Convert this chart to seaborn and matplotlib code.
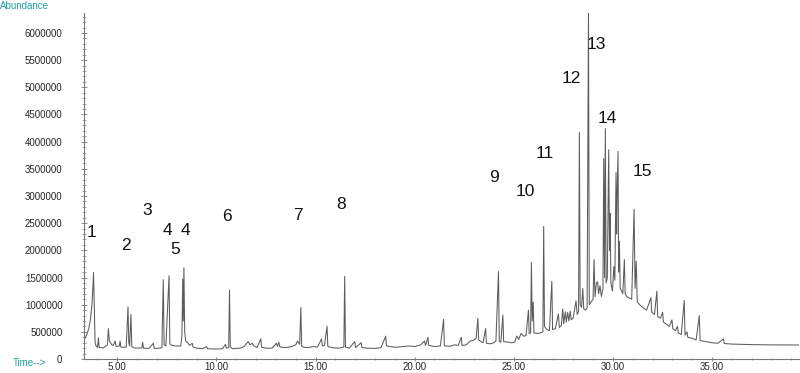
import matplotlib
matplotlib.use("Agg")
import matplotlib.pyplot as plt
import matplotlib.ticker as mticker
import seaborn as sns
import pandas as pd

# ---- data (time in min, abundance) ----
trace_time = [
    3.32, 3.36, 3.40, 3.48, 3.56, 3.64, 3.72, 3.78, 3.80, 3.84, 3.88, 3.94, 4.00, 4.05, 4.08,
    4.20, 4.30, 4.50, 4.55, 4.60, 4.66, 4.72, 4.80, 4.89, 4.93, 5.00, 5.10, 5.14, 5.18, 5.30,
    5.45, 5.54, 5.58, 5.62, 5.69, 5.73, 5.85, 6.00, 6.24, 6.28, 6.32, 6.60, 6.82, 6.86, 7.15,
    7.25, 7.32, 7.36, 7.45, 7.61, 7.65, 7.70, 7.90, 8.20, 8.26, 8.30, 8.33, 8.36, 8.40, 8.45,
    8.55, 8.65, 8.78, 8.82, 9.00, 9.30, 9.50, 9.55, 9.80, 10.10, 10.30, 10.46, 10.50, 10.62, 10.66,
    10.70, 10.80, 11.20, 11.40, 11.60, 11.70, 11.80, 11.90, 12.05, 12.24, 12.28, 12.50, 12.80, 13.03, 13.07,
    13.15, 13.20, 13.50, 13.80, 14.00, 14.09, 14.20, 14.26, 14.30, 14.50, 14.70, 14.90, 15.10, 15.30, 15.35,
    15.45, 15.58, 15.62, 15.90, 16.20, 16.43, 16.47, 16.51, 16.70, 16.98, 17.02, 17.30, 17.34, 17.60, 18.00,
    18.30, 18.54, 18.58, 18.75, 19.00, 19.40, 19.70, 20.00, 20.30, 20.50, 20.55, 20.67, 20.71, 21.00, 21.30,
    21.46, 21.50, 21.80, 22.00, 22.20, 22.35, 22.39, 22.60, 22.80, 22.95, 23.10, 23.19, 23.23, 23.35, 23.45,
    23.58, 23.62, 23.80, 24.00, 24.10, 24.23, 24.27, 24.35, 24.45, 24.49, 24.70, 24.90, 25.05, 25.15, 25.25,
    25.37, 25.50, 25.62, 25.74, 25.78, 25.85, 25.89, 25.93, 25.98, 26.02, 26.20, 26.35, 26.47, 26.51, 26.55,
    26.65, 26.80, 26.92, 26.96, 27.10, 27.25, 27.30, 27.40, 27.47, 27.52, 27.60, 27.65, 27.72, 27.78, 27.85,
    27.90, 28.00, 28.14, 28.20, 28.27, 28.31, 28.35, 28.42, 28.48, 28.53, 28.62, 28.70, 28.77, 28.81, 28.90,
    29.00, 29.05, 29.10, 29.17, 29.23, 29.28, 29.35, 29.42, 29.50, 29.54, 29.58, 29.62, 29.66, 29.72, 29.79,
    29.83, 29.86, 29.90, 29.98, 30.05, 30.10, 30.16, 30.19, 30.21, 30.26, 30.29, 30.33, 30.37, 30.45, 30.50,
    30.58, 30.62, 30.70, 30.85, 30.95, 31.07, 31.12, 31.18, 31.23, 31.35, 31.50, 31.70, 31.92, 31.96, 32.10,
    32.22, 32.26, 32.40, 32.51, 32.55, 32.70, 32.85, 32.98, 33.02, 33.15, 33.26, 33.30, 33.45, 33.60, 33.64,
    33.74, 33.78, 34.00, 34.20, 34.36, 34.40, 34.70, 35.00, 35.30, 35.58, 35.62, 36.00, 36.50, 37.00, 38.00,
    39.40,
]
trace_abund = [
    440e3, 380e3, 400e3, 470e3, 560e3, 720e3, 1000e3, 1400e3, 1590e3, 900e3, 300e3, 230e3, 215e3, 390e3, 215e3,
    210e3, 205e3, 260e3, 560e3, 330e3, 300e3, 260e3, 250e3, 330e3, 240e3, 230e3, 240e3, 330e3, 220e3, 215e3,
    220e3, 960e3, 300e3, 240e3, 820e3, 230e3, 205e3, 200e3, 205e3, 310e3, 200e3, 195e3, 290e3, 195e3, 200e3,
    210e3, 1460e3, 260e3, 240e3, 1530e3, 280e3, 260e3, 240e3, 240e3, 420e3, 1470e3, 700e3, 1680e3, 500e3, 330e3,
    300e3, 250e3, 290e3, 220e3, 200e3, 190e3, 230e3, 190e3, 185e3, 185e3, 190e3, 270e3, 200e3, 210e3, 1270e3,
    230e3, 190e3, 200e3, 230e3, 320e3, 260e3, 290e3, 240e3, 210e3, 370e3, 215e3, 200e3, 200e3, 290e3, 230e3,
    310e3, 220e3, 210e3, 230e3, 260e3, 330e3, 270e3, 950e3, 230e3, 210e3, 215e3, 230e3, 220e3, 370e3, 240e3,
    250e3, 600e3, 230e3, 205e3, 200e3, 220e3, 1520e3, 220e3, 200e3, 320e3, 210e3, 300e3, 210e3, 200e3, 195e3,
    210e3, 420e3, 240e3, 230e3, 215e3, 230e3, 240e3, 230e3, 260e3, 330e3, 250e3, 400e3, 250e3, 230e3, 240e3,
    730e3, 240e3, 235e3, 260e3, 250e3, 400e3, 250e3, 260e3, 330e3, 340e3, 380e3, 750e3, 350e3, 320e3, 300e3,
    560e3, 290e3, 280e3, 300e3, 330e3, 1610e3, 320e3, 310e3, 810e3, 320e3, 310e3, 300e3, 310e3, 420e3, 360e3,
    470e3, 420e3, 430e3, 900e3, 470e3, 480e3, 1780e3, 700e3, 1050e3, 480e3, 470e3, 480e3, 500e3, 2440e3, 600e3,
    550e3, 520e3, 1430e3, 540e3, 560e3, 830e3, 580e3, 620e3, 920e3, 650e3, 870e3, 680e3, 860e3, 700e3, 880e3,
    720e3, 760e3, 1070e3, 820e3, 880e3, 4170e3, 1000e3, 950e3, 1300e3, 920e3, 900e3, 940e3, 6370e3, 1000e3, 1050e3,
    1100e3, 1830e3, 1150e3, 1400e3, 1420e3, 1200e3, 1350e3, 1150e3, 1300e3, 3690e3, 1500e3, 4240e3, 1400e3, 1500e3, 3850e3,
    2000e3, 2680e3, 1400e3, 1250e3, 1700e3, 1450e3, 3430e3, 2300e3, 2900e3, 3820e3, 1600e3, 2170e3, 1300e3, 1250e3, 1200e3,
    1830e3, 1200e3, 1150e3, 1120e3, 1100e3, 2760e3, 1300e3, 1800e3, 1050e3, 1000e3, 950e3, 900e3, 1130e3, 860e3, 820e3,
    1250e3, 780e3, 750e3, 860e3, 680e3, 640e3, 600e3, 720e3, 560e3, 520e3, 600e3, 480e3, 450e3, 1080e3, 440e3,
    500e3, 400e3, 380e3, 350e3, 800e3, 340e3, 320e3, 300e3, 290e3, 370e3, 285e3, 275e3, 270e3, 265e3, 260e3,
    258e3,
]

peak_labels = ["1", "2", "3", "4", "4", "5", "6", "7", "8", "9", "10", "11", "12", "13", "14", "15"]
label_time = [3.68, 5.43, 6.50, 7.52, 8.43, 7.94, 10.54, 14.09, 16.27, 23.98, 25.59, 26.55, 27.92, 29.15, 29.71, 31.47]
label_abund = [2.32e6, 2.08e6, 2.74e6, 2.36e6, 2.36e6, 2.02e6, 2.62e6, 2.65e6, 2.85e6, 3.34e6, 3.08e6, 3.79e6, 5.17e6, 5.79e6, 4.43e6, 3.45e6]

x_ticks = [5, 10, 15, 20, 25, 30, 35]
y_ticks = [0, 500000, 1000000, 1500000, 2000000, 2500000, 3000000, 3500000,
           4000000, 4500000, 5000000, 5500000, 6000000]

# ---- drawing ----
sns.set_style("white")
plt.rcParams["font.family"] = ["Liberation Sans", "DejaVu Sans"]

fig = plt.figure(figsize=(8.0, 3.73), dpi=100)
ax = fig.add_axes([0.105, 0.0375, 0.894, 0.928])

df = pd.DataFrame({"time": trace_time, "abundance": trace_abund})
sns.lineplot(data=df, x="time", y="abundance", sort=False, estimator=None,
             color="#5c5c5c", linewidth=0.75, ax=ax)

for lab, t, a in zip(peak_labels, label_time, label_abund):
    ax.text(t, a, lab, ha="center", va="center", fontsize=12.5, color="#111111")

ax.set_xlim(3.32, 39.4)
ax.set_ylim(0, 6.37e6)
ax.set_xticks(x_ticks)
ax.set_xticklabels([f"{v:.2f}" for v in x_ticks])
ax.set_yticks(y_ticks)
ax.set_yticklabels([str(v) for v in y_ticks])
ax.xaxis.set_minor_locator(mticker.MultipleLocator(1))
ax.yaxis.set_minor_locator(mticker.MultipleLocator(100000))
ax.set_xlabel("")
ax.set_ylabel("")

for s in ["top", "right"]:
    ax.spines[s].set_visible(False)
for s in ["left", "bottom"]:
    ax.spines[s].set_color("#777777")
    ax.spines[s].set_linewidth(0.8)

ax.tick_params(axis="y", which="major", direction="inout", length=5, width=0.6,
               color="#777777", labelsize=7.0, pad=13, left=True)
ax.tick_params(axis="y", which="minor", direction="inout", length=2.5, width=0.5,
               color="#888888", left=True)
ax.tick_params(axis="x", which="major", direction="inout", length=3, width=0.6,
               color="#777777", labelsize=7.0, pad=0.5, bottom=True)
ax.tick_params(axis="x", which="minor", direction="inout", length=2, width=0.5,
               color="#888888", bottom=True)

teal = "#1c9ea0"
fig.text(0.0, 0.997, "Abundance", ha="left", va="top", fontsize=7, color=teal)
fig.text(0.016, 0.028, "Time-->", ha="left", va="center", fontsize=7, color=teal)

fig.savefig("out.png", dpi=100)
